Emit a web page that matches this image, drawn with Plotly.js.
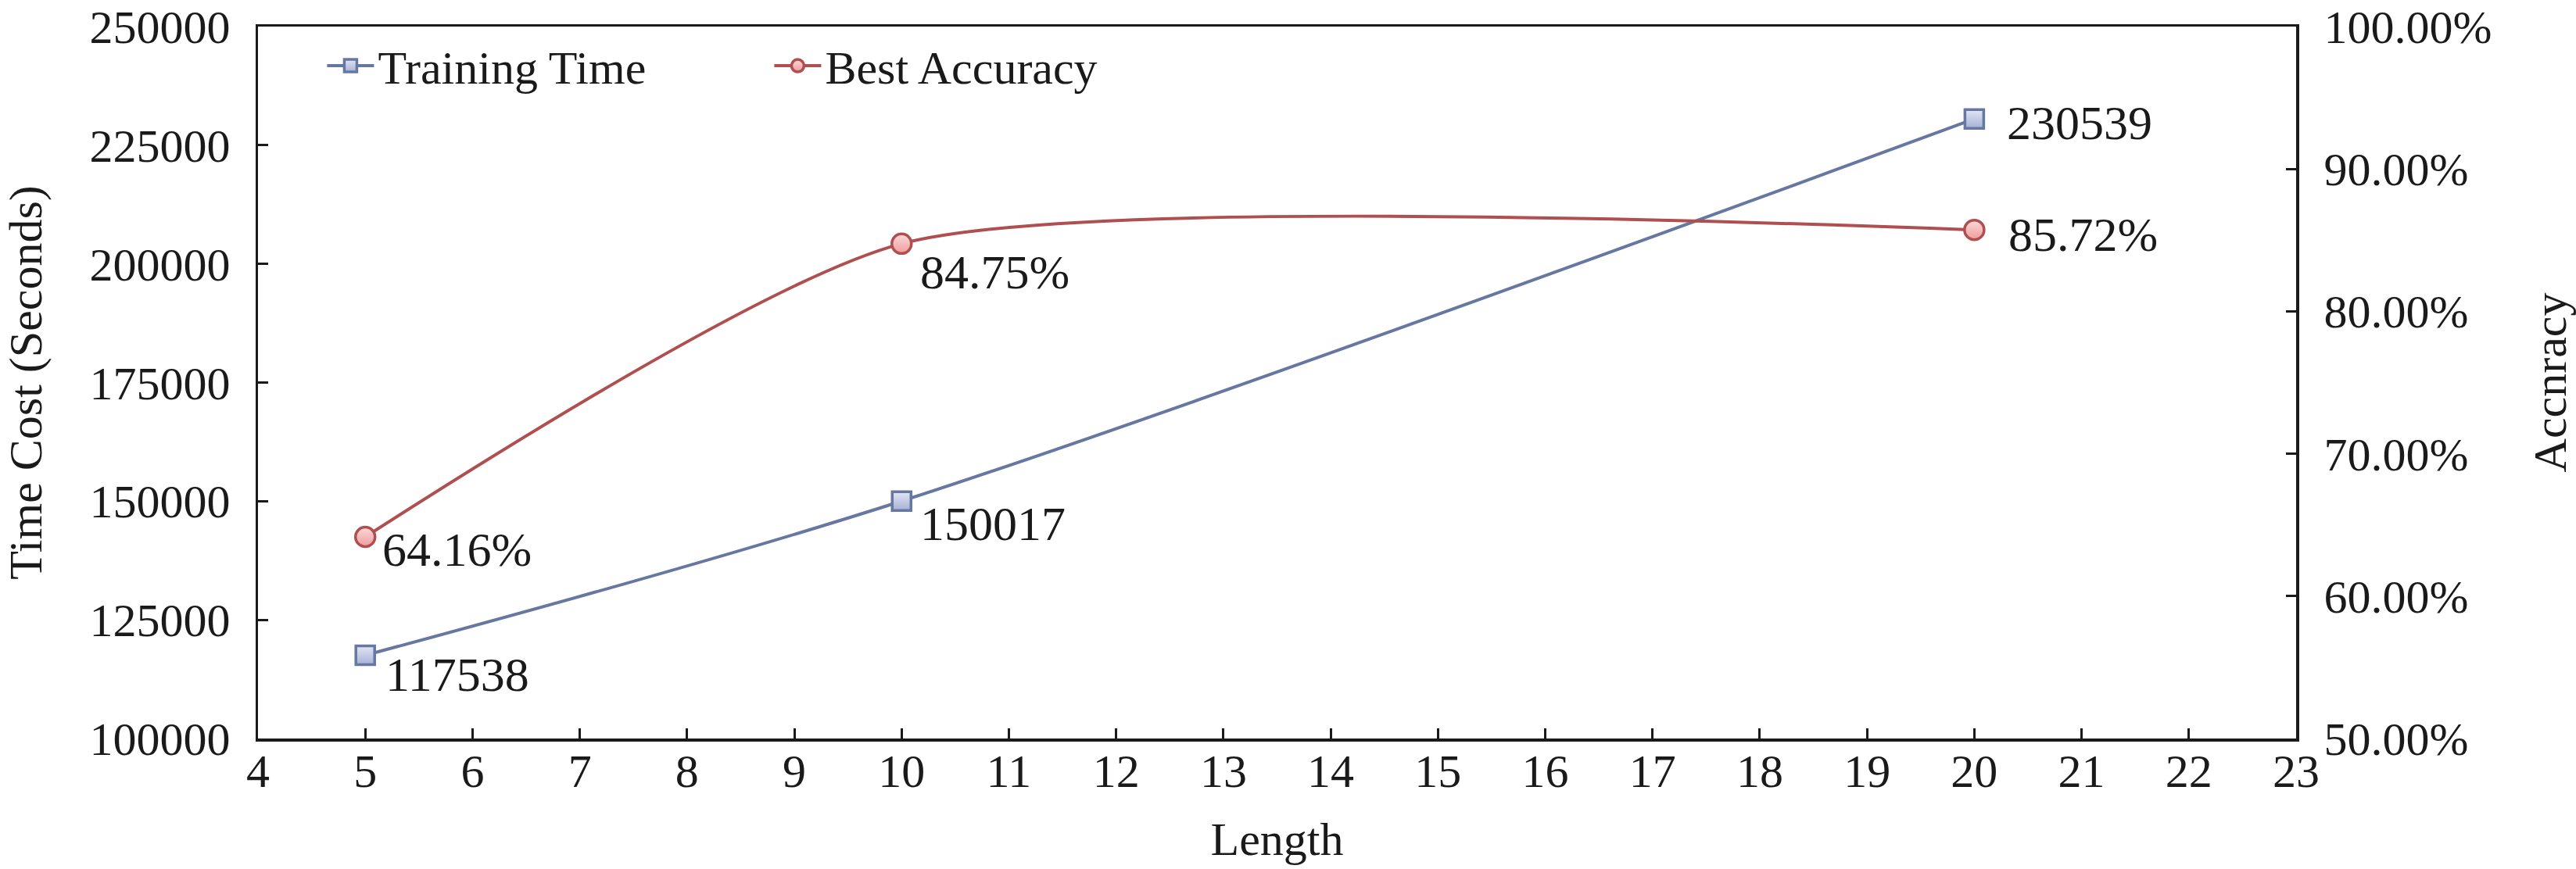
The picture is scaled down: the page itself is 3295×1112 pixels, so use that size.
<!DOCTYPE html>
<html>
<head>
<meta charset="utf-8">
<script src="https://cdn.plot.ly/plotly-3.0.1.min.js"></script>
<style>html,body{margin:0;padding:0;background:#fff;}#chart{width:3295px;height:1112px;}</style>
</head>
<body>
<div id="chart"></div>
<script>
// Data
const lengths = [5, 10, 20];
const trainingTime = [117538, 150017, 230539];
const bestAccuracy = [0.6416, 0.8475, 0.8572];
const seriesNames = ['Training Time', 'Best Accuracy'];

// Label offsets (pixels from the point: right, down)
const timeLabelShift = [[24, 25], [22, 29], [40, 5]];
const accLabelShift = [[20, 16], [22, 36], [42, 6]];

const FONT = 'Liberation Serif, Times New Roman, serif';
const INK = '#1a1a1a';
const BLUE = '#6677a1';
const RED = '#b04f4f';

const traces = [
  {
    x: lengths, y: trainingTime, name: seriesNames[0], type: 'scatter',
    mode: 'lines+markers',
    line: {color: BLUE, width: 4, shape: 'spline', smoothing: 0.9},
    marker: {symbol: 'square', size: 24, color: '#e2e5f3',
             gradient: {type: 'vertical', color: '#a7b1d6'},
             line: {color: BLUE, width: 3.5}},
    cliponaxis: false
  },
  {
    x: lengths, y: bestAccuracy, name: seriesNames[1], type: 'scatter', yaxis: 'y2',
    mode: 'lines+markers',
    line: {color: RED, width: 4, shape: 'spline', smoothing: 0.62},
    marker: {symbol: 'circle', size: 25, color: '#fbd9d9',
             gradient: {type: 'vertical', color: '#f09c9c'},
             line: {color: RED, width: 3.5}},
    cliponaxis: false
  }
];

const annotations = [];
lengths.forEach((x, i) => {
  annotations.push({
    x: x, y: trainingTime[i], xref: 'x', yref: 'y',
    text: String(trainingTime[i]), showarrow: false,
    xanchor: 'left', yanchor: 'middle',
    xshift: timeLabelShift[i][0], yshift: -timeLabelShift[i][1],
    font: {family: FONT, size: 62, color: INK}
  });
  annotations.push({
    x: x, y: bestAccuracy[i], xref: 'x', yref: 'y2',
    text: (bestAccuracy[i] * 100).toFixed(2) + '%', showarrow: false,
    xanchor: 'left', yanchor: 'middle',
    xshift: accLabelShift[i][0], yshift: -accLabelShift[i][1],
    font: {family: FONT, size: 62, color: INK}
  });
});

const axisCommon = {
  showgrid: false, zeroline: false, showline: true,
  linecolor: INK, linewidth: 3.5,
  ticks: 'inside', ticklen: 13, tickwidth: 3, tickcolor: INK,
  ticklabeloverflow: 'allow',
  tickfont: {family: FONT, size: 60, color: INK}
};

const layout = {
  width: 3295, height: 1112,
  margin: {l: 330, r: 358, t: 34, b: 167},
  paper_bgcolor: '#ffffff', plot_bgcolor: '#ffffff',
  font: {family: FONT, size: 60, color: INK},
  showlegend: true,
  annotations: annotations,
  legend: {
    orientation: 'h', x: 0.032, y: 0.995, xanchor: 'left', yanchor: 'top',
    bgcolor: 'rgba(0,0,0,0)', font: {family: FONT, size: 60, color: INK},
    itemwidth: 60, entrywidth: 497, entrywidthmode: 'pixels'
  },
  xaxis: Object.assign({}, axisCommon, {
    range: [4, 23], dtick: 1, tick0: 4, mirror: true,
    ticklabelstandoff: -14,
    title: {text: 'Length', font: {family: FONT, size: 60, color: INK}, standoff: 34}
  }),
  yaxis: Object.assign({}, axisCommon, {
    range: [100000, 250000], dtick: 25000, tickformat: 'd',
    ticklabelstandoff: 20,
    title: {text: 'Time Cost (Seconds)', font: {family: FONT, size: 60, color: INK}, standoff: 43}
  }),
  yaxis2: Object.assign({}, axisCommon, {
    overlaying: 'y', side: 'right',
    range: [0.5, 1.0], dtick: 0.1, tickformat: '.2%',
    ticklabelstandoff: 20,
    title: {text: 'Accnracy', font: {family: FONT, size: 60, color: INK}, standoff: 72}
  })
};

Plotly.newPlot('chart', traces, layout, {displayModeBar: false, staticPlot: true});
</script>
</body>
</html>
